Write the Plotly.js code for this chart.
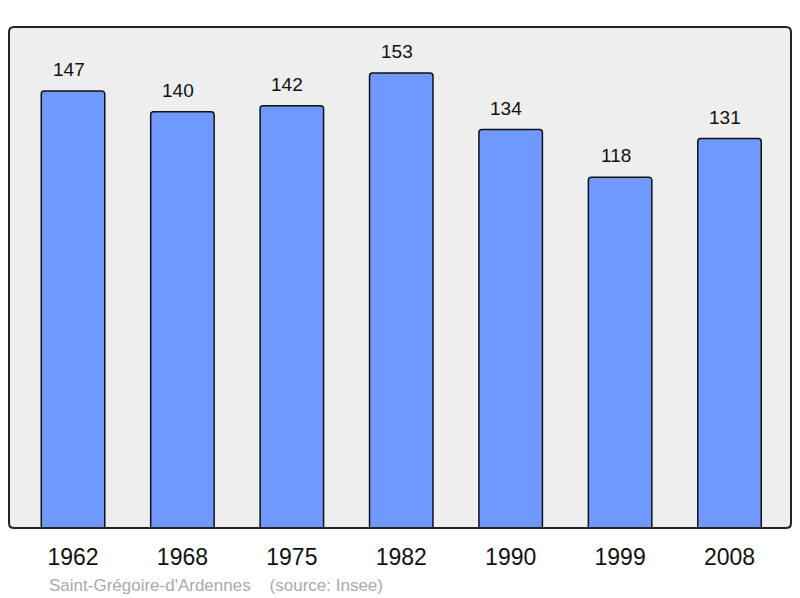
<!DOCTYPE html>
<html>
<head>
<meta charset="utf-8">
<script src="https://cdn.plot.ly/plotly-3.0.1.min.js"></script>
<style>html,body{margin:0;padding:0;background:#fff;}#chart{width:800px;height:598px;}</style>
</head>
<body>
<div id="chart"></div>
<script>
var years = ["1962", "1968", "1975", "1982", "1990", "1999", "2008"];
var population = [147, 140, 142, 153, 134, 118, 131];
var footerText = "Saint-Grégoire-d'Ardennes\u00a0\u00a0\u00a0\u00a0(source: Insee)";

var W = 800, H = 598;
var m = {l: 9, r: 9, t: 27, b: 70};
var pw = W - m.l - m.r, ph = H - m.t - m.b;
var rx = 5 / pw, ry = 5 / ph;
var framePath = 'M ' + rx + ' 0 L ' + (1 - rx) + ' 0 Q 1 0 1 ' + ry +
  ' L 1 ' + (1 - ry) + ' Q 1 1 ' + (1 - rx) + ' 1 L ' + rx + ' 1 Q 0 1 0 ' + (1 - ry) +
  ' L 0 ' + ry + ' Q 0 0 ' + rx + ' 0 Z';

var annotations = years.map(function (y, i) {
  return {
    x: i, y: population[i], xref: 'x', yref: 'y',
    text: String(population[i]), showarrow: false,
    xanchor: 'center', yanchor: 'bottom', yshift: 9, xshift: -4.5,
    font: {family: 'Liberation Sans, Arial, sans-serif', size: 19, color: '#111'}
  };
});
annotations.push({
  xref: 'paper', yref: 'paper', x: (47 - m.l) / pw, y: -(598 - 528 - 1) / ph,
  xanchor: 'left', yanchor: 'bottom', showarrow: false, text: footerText,
  font: {family: 'Liberation Sans, Arial, sans-serif', size: 17, color: '#aaaaaa'}
});

var trace = {
  type: 'bar', x: years, y: population,
  width: 0.58,
  marker: {color: '#7099ff', line: {color: '#111', width: 1.5}, cornerradius: 3},
  hoverinfo: 'none'
};

var layout = {
  width: W, height: H,
  margin: m,
  paper_bgcolor: '#ffffff', plot_bgcolor: '#eeeeee',
  showlegend: false,
  xaxis: {
    type: 'category', range: [-0.585, 6.562], fixedrange: true,
    showgrid: false, zeroline: false, showline: false, ticks: '',
    tickfont: {family: 'Liberation Sans, Arial, sans-serif', size: 23, color: '#111'},
    ticklabelstandoff: 13
  },
  yaxis: {
    range: [0, 168.5], showgrid: false, zeroline: false, showline: false,
    showticklabels: false, ticks: '', fixedrange: true
  },
  shapes: [{
    type: 'path', xref: 'paper', yref: 'paper', path: framePath,
    line: {color: '#222', width: 2}, layer: 'above'
  }],
  annotations: annotations
};

Plotly.newPlot('chart', [trace], layout, {staticPlot: true, displayModeBar: false});
</script>
</body>
</html>
